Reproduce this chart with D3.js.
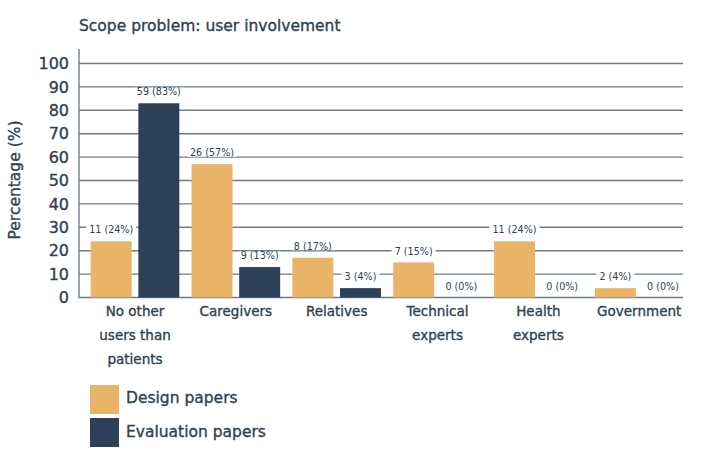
<!DOCTYPE html>
<html><head><meta charset="utf-8">
<script src="https://cdn.jsdelivr.net/npm/d3@7"></script>
<style>body{margin:0;background:#fff}svg{display:block}text{font-family:"DejaVu Sans",sans-serif}.med{stroke:#2f4250;stroke-width:0.35px}</style>
</head><body><svg id="c" width="708" height="458"></svg>
<script>
const categories = [["No other","users than","patients"],["Caregivers"],["Relatives"],["Technical","experts"],["Health","experts"],["Government"]];
const seriesNames = ["Design papers","Evaluation papers"];
const designPct = [24,57,17,15,24,4];
const designN = [11,26,8,7,11,2];
const evalPct = [83,13,4,0,0,0];
const evalN = [59,9,3,0,0,0];
const yTicks = [0,10,20,30,40,50,60,70,80,90,100];
const colors = ["#e9b467","#2c4058"];
const textCol = "#2f4250";
const font = "'DejaVu Sans',sans-serif";

const svg = d3.select("#c");
const m = {l:79, r:683, t:63.5, b:297.5};
const x = d3.scaleBand().domain(d3.range(categories.length)).range([90.7, 683.5]).paddingInner(0.121).paddingOuter(0);
const xi = d3.scaleBand().domain([0,1]).range([0, x.bandwidth()]).paddingInner(0.14);
const y = d3.scaleLinear().domain([0,100]).range([m.b, m.t]);

svg.append("text").attr("class","med").attr("x",79).attr("y",30.5).attr("font-size",15.5).attr("fill",textCol).text("Scope problem: user involvement");

// grid
svg.append("g").selectAll("line").data(yTicks).join("line")
  .attr("x1",m.l).attr("x2",m.r).attr("y1",d=>y(d)).attr("y2",d=>y(d))
  .attr("stroke","#6f7d87").attr("stroke-width",1.4);
svg.append("line").attr("x1",m.l).attr("x2",m.l).attr("y1",49).attr("y2",m.b+0.7).attr("stroke","#6f7d87").attr("stroke-width",1.4);

// y axis labels
const yAxis = d3.axisLeft(y).tickValues(yTicks).tickSize(0).tickPadding(10);
const ga = svg.append("g").attr("transform",`translate(${m.l},0)`).call(yAxis);
ga.select(".domain").remove();
ga.selectAll("text").attr("class","med").attr("font-size",16).attr("fill",textCol).attr("font-family",font);

svg.append("text").attr("class","med").attr("transform","translate(20,180) rotate(-90)").attr("text-anchor","middle")
  .attr("font-size",15.5).attr("fill",textCol).text("Percentage (%)");

// bars
const rows = [];
categories.forEach((c,i)=>{
  rows.push({i, s:0, v:designPct[i], n:designN[i]});
  rows.push({i, s:1, v:evalPct[i], n:evalN[i]});
});
svg.append("g").selectAll("rect").data(rows).join("rect")
  .attr("x",d=>x(d.i)+xi(d.s)).attr("width",xi.bandwidth())
  .attr("y",d=>y(d.v)).attr("height",d=>y(0)-y(d.v)).attr("fill",d=>colors[d.s]);

// value labels with white background
const lg = svg.append("g");
rows.forEach(d=>{
  const cx = x(d.i)+xi(d.s)+xi.bandwidth()/2;
  const ty = y(d.v)-11.5;
  const g = lg.append("g");
  const t = g.append("text").attr("x",cx).attr("y",ty+3.6).attr("text-anchor","middle")
    .attr("font-size",9.6).attr("fill",textCol).text(`${d.n} (${d.v}%)`);
  const bb = t.node().getBBox();
  g.insert("rect","text").attr("x",bb.x-3).attr("y",ty-4).attr("width",bb.width+6).attr("height",8).attr("fill","#fff");
});

// category labels
svg.append("g").selectAll("text").data(categories).join("text")
  .attr("class","med").attr("text-anchor","middle").attr("font-size",13.5).attr("fill",textCol)
  .attr("transform",(d,i)=>`translate(${x(i)+x.bandwidth()/2},${316})`)
  .each(function(d){
    d3.select(this).selectAll("tspan").data(d).join("tspan").attr("x",0).attr("dy",(t,k)=>k===0?0:24).text(t=>t);
  });

// legend
const leg = svg.append("g");
seriesNames.forEach((s,k)=>{
  leg.append("rect").attr("x",90).attr("y",385+k*33).attr("width",29).attr("height",29).attr("fill",colors[k]);
  leg.append("text").attr("class","med").attr("x",126).attr("y",403+k*33.5).attr("font-size",15.5).attr("fill",textCol).text(s);
});
</script></body></html>
